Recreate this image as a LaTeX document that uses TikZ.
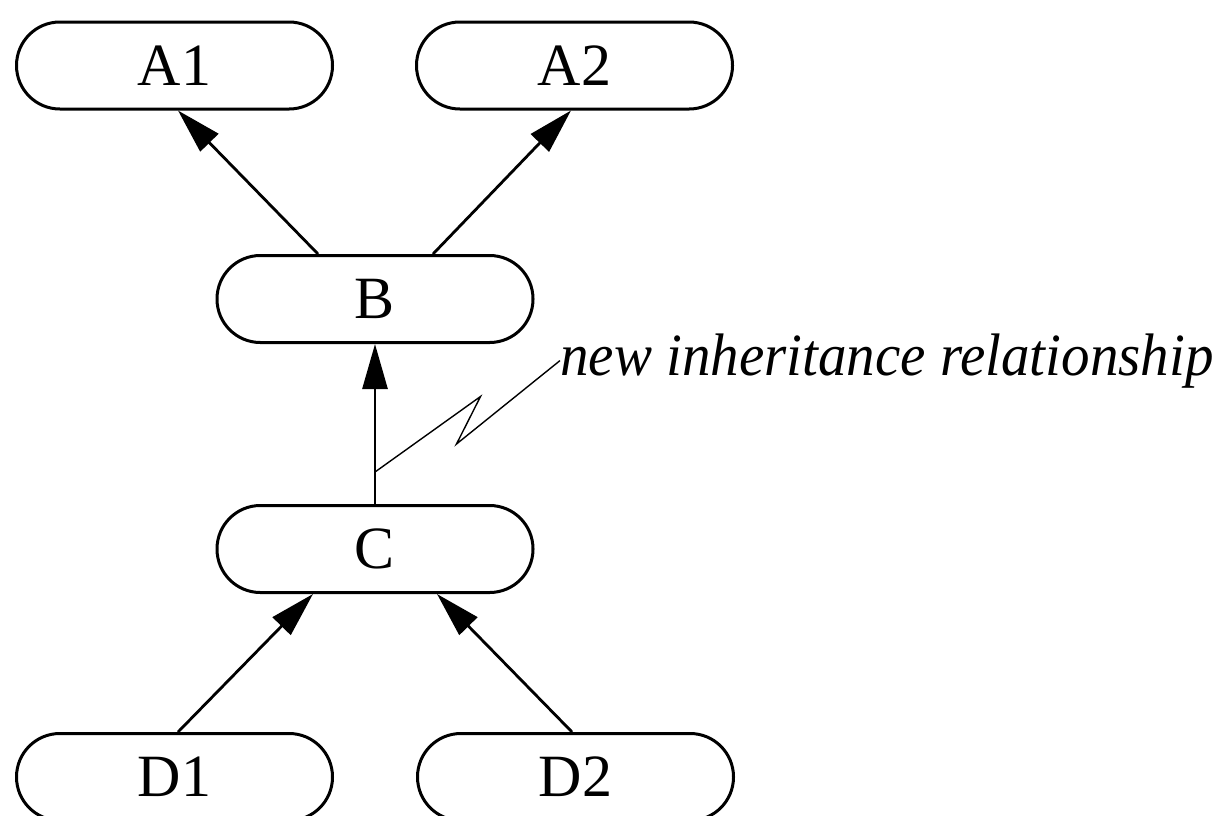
\documentclass[tikz,border=0pt]{standalone}
\usepackage{fontspec}
\usepackage{graphicx}
\setmainfont{Liberation Serif}
\usetikzlibrary{arrows.meta,calc}
\begin{document}
\begin{tikzpicture}[x=0.5pt,y=-0.5pt,
  classbox/.style={draw, line width=1.5pt, rectangle, rounded corners=21.7pt,
    minimum width=158pt, minimum height=43.5pt, inner sep=0pt,
    font=\fontsize{30pt}{36pt}\selectfont},
  inherit/.style={line width=1.4pt, -{Triangle[length=22.5pt,width=12.5pt]}},
  note/.style={line width=0.7pt, line join=miter}]
\useasboundingbox (0,0) rectangle (1231,815);
\fill[white] (0,0) rectangle (1231,815);
\node[classbox] (A1) at (174.5,65.5) {A1};
\node[classbox] (A2) at (574.5,65.5) {A2};
\node[classbox] (B) at (375,299) {B};
\node[classbox] (C) at (375,549) {C};
\node[classbox] (D1) at (174.5,777) {D1};
\node[classbox] (D2) at (575.5,777) {D2};
\draw[inherit] ([xshift=-28.5pt]B.north) -- ([xshift=1.75pt]A1.south);
\draw[inherit] ([xshift=29pt]B.north) -- ([xshift=-1.75pt]A2.south);
\draw[inherit] (C.north) -- (B.south);
\draw[inherit] ([xshift=1.75pt]D1.north) -- ([xshift=-31pt]C.south);
\draw[inherit] ([xshift=-1.75pt]D2.north) -- ([xshift=31pt]C.south);
\node[anchor=base west, inner sep=0pt, font=\fontsize{30pt}{36pt}\selectfont\itshape] (lbl) at (560,375) {\resizebox{326.5pt}{\height}{new inheritance relationship}};
\coordinate (z0) at ($(C.north)!0.2!(B.south)$);
\draw[note] (z0) -- (480.5,396.5) -- (456.5,444) -- (lbl.west);
\end{tikzpicture}
\end{document}
